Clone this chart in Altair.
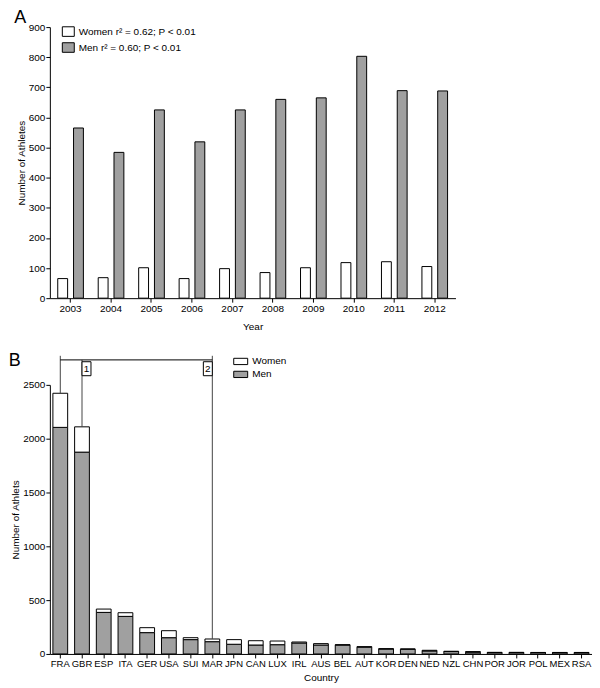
import altair as alt
import pandas as pd

# ---------- data ----------
years = ["2003", "2004", "2005", "2006", "2007", "2008", "2009", "2010", "2011", "2012"]
women_year = [65, 68, 101, 65, 98, 85, 101, 118, 121, 105]
men_year = [565, 484, 625, 519, 625, 660, 665, 803, 689, 688]

countries = ["FRA", "GBR", "ESP", "ITA", "GER", "USA", "SUI", "MAR", "JPN", "CAN",
             "LUX", "IRL", "AUS", "BEL", "AUT", "KOR", "DEN", "NED", "NZL", "CHN",
             "POR", "JOR", "POL", "MEX", "RSA"]
men_country = [2105, 1875, 386, 349, 198, 151, 133, 114, 90, 83,
               86, 102, 83, 83, 63, 46, 44, 28, 22, 16,
               13, 13, 13, 12, 12]
women_country = [317, 235, 31, 34, 46, 65, 18, 25, 43, 40,
                 34, 9, 13, 3, 5, 3, 2, 6, 3, 6,
                 2, 2, 1, 2, 2]

sexes = ["Women", "Men"]
fills = ["#ffffff", "#a0a0a0"]
legend_a_labels = ["Women r² = 0.62; P < 0.01", "Men r² = 0.60; P < 0.01"]

bracket_countries = ["FRA", "GBR", "MAR"]
bracket_tops = [2770, 2732, 2770]
bracket_level = 2732
box_countries = ["GBR", "MAR"]
box_labels = ["1", "2"]
box_top = 2715
box_bottom = 2585
box_mid = 2650

FONT = "Liberation Sans"

# ---------- panel A ----------
dfA = pd.DataFrame({
    "Year": years * 2,
    "Sex": ["Women"] * len(years) + ["Men"] * len(years),
    "Athletes": women_year + men_year,
})

label_expr_a = ("datum.label == 'Women' ? '%s' : '%s'" % (legend_a_labels[0], legend_a_labels[1]))

chartA = alt.Chart(dfA).mark_bar(stroke="black", strokeWidth=1).encode(
    x=alt.X("Year:N", scale=alt.Scale(paddingInner=0.366, paddingOuter=0.195),
            axis=alt.Axis(labelAngle=0, title="Year", titlePadding=8)),
    xOffset=alt.XOffset("Sex:N", scale=alt.Scale(domain=sexes, paddingInner=0.375)),
    y=alt.Y("Athletes:Q", scale=alt.Scale(domain=[0, 900]),
            axis=alt.Axis(values=list(range(0, 901, 100)), format="d", title="Number of Athletes")),
    fill=alt.Fill("Sex:N", scale=alt.Scale(domain=sexes, range=fills),
                  legend=alt.Legend(orient="none", legendX=12, legendY=-2, title=None,
                                    symbolType="M-1,-0.8H1V0.8H-1Z", symbolSize=144,
                                    symbolStrokeColor="black", symbolStrokeWidth=1,
                                    labelFontSize=10, labelFont=FONT, rowPadding=1,
                                    padding=0, labelLimit=300, labelExpr=label_expr_a)),
).properties(
    width=407, height=272,
    title=alt.TitleParams("A", anchor="start", frame="bounds", fontSize=18,
                          fontWeight="normal", font=FONT, offset=-5, dx=-2),
)

# ---------- panel B ----------
rows = []
for c, m, w in zip(countries, men_country, women_country):
    rows.append({"Country": c, "Sex": "Men", "Athletes": m, "ord": 0})
    rows.append({"Country": c, "Sex": "Women", "Athletes": w, "ord": 1})
dfB = pd.DataFrame(rows)

totals = {c: m + w for c, m, w in zip(countries, men_country, women_country)}

yTitle = "Number of Athlets"
yScaleB = alt.Scale(domain=[0, 2500])
xScaleB = alt.Scale(domain=countries, paddingInner=0.32, paddingOuter=0.14)

xB = alt.X("Country:N", scale=xScaleB,
           axis=alt.Axis(labelAngle=0, labelOverlap=False, labelFontSize=9.5,
                         title="Country", titlePadding=4))

bars = alt.Chart(dfB).mark_bar(stroke="black", strokeWidth=1).encode(
    x=xB,
    y=alt.Y("Athletes:Q", stack="zero", scale=yScaleB,
            axis=alt.Axis(values=list(range(0, 2501, 500)), format="d", title=yTitle)),
    fill=alt.Fill("Sex:N", scale=alt.Scale(domain=sexes, range=fills),
                  legend=alt.Legend(orient="none", legendX=184, legendY=-31, title=None,
                                    symbolType="M-1,-0.45H1V0.45H-1Z", symbolSize=196,
                                    symbolStrokeColor="black", symbolStrokeWidth=1,
                                    labelFontSize=10, labelFont=FONT, rowPadding=0,
                                    padding=0)),
    order=alt.Order("ord:Q"),
)

dfBr = pd.DataFrame({
    "Country": bracket_countries,
    "low": [totals[c] for c in bracket_countries],
    "high": bracket_tops,
})
vlines = alt.Chart(dfBr).mark_rule(color="#444444", strokeWidth=1).encode(
    x=alt.X("Country:N", scale=xScaleB, title="Country"),
    y=alt.Y("low:Q", scale=yScaleB, title=yTitle),
    y2="high:Q",
)

dfH = pd.DataFrame({"Country": [bracket_countries[0]], "Country2": [bracket_countries[-1]],
                    "level": [bracket_level]})
hline = alt.Chart(dfH).mark_rule(color="black", strokeWidth=1).encode(
    x=alt.X("Country:N", scale=xScaleB, title="Country"),
    x2="Country2:N",
    y=alt.Y("level:Q", scale=yScaleB, title=yTitle),
)

dfBox = pd.DataFrame({"Country": box_countries, "label": box_labels,
                      "top": [box_top] * 2, "bottom": [box_bottom] * 2, "mid": [box_mid] * 2})

def box(i, dx):
    d = dfBox.iloc[[i]]
    r = alt.Chart(d).mark_bar(width=9, xOffset=dx, fill="white", stroke="black", strokeWidth=1).encode(
        x=alt.X("Country:N", scale=xScaleB, title="Country"),
        y=alt.Y("top:Q", scale=yScaleB, title=yTitle),
        y2="bottom:Q",
    )
    t = alt.Chart(d).mark_text(xOffset=dx, fontSize=10, font=FONT, color="black", baseline="middle").encode(
        x=alt.X("Country:N", scale=xScaleB, title="Country"),
        y=alt.Y("mid:Q", scale=yScaleB, title=yTitle),
        text="label:N",
    )
    return r + t

chartB = alt.layer(bars, vlines, hline, box(0, 4.5), box(1, -4.5)).properties(
    width=544, height=270,
    title=alt.TitleParams("B", anchor="start", frame="bounds", fontSize=18,
                          fontWeight="normal", font=FONT, offset=-16, dx=-2),
)

chart = alt.vconcat(chartA, chartB, spacing=21).properties(
    padding={"left": 0, "top": 0, "right": 0, "bottom": 0}
).resolve_scale(fill="independent").resolve_legend(fill="independent").configure_view(
    stroke=None
).configure_axis(
    labelFont=FONT, titleFont=FONT, labelFontSize=10, titleFontSize=10,
    titleFontWeight="normal", labelColor="black", titleColor="black",
    domainColor="black", tickColor="black", grid=False, tickSize=4, labelPadding=1,
).configure_axisY(titlePadding=2)

chart.save("out.html", embed_options={"renderer": "svg", "actions": False})
